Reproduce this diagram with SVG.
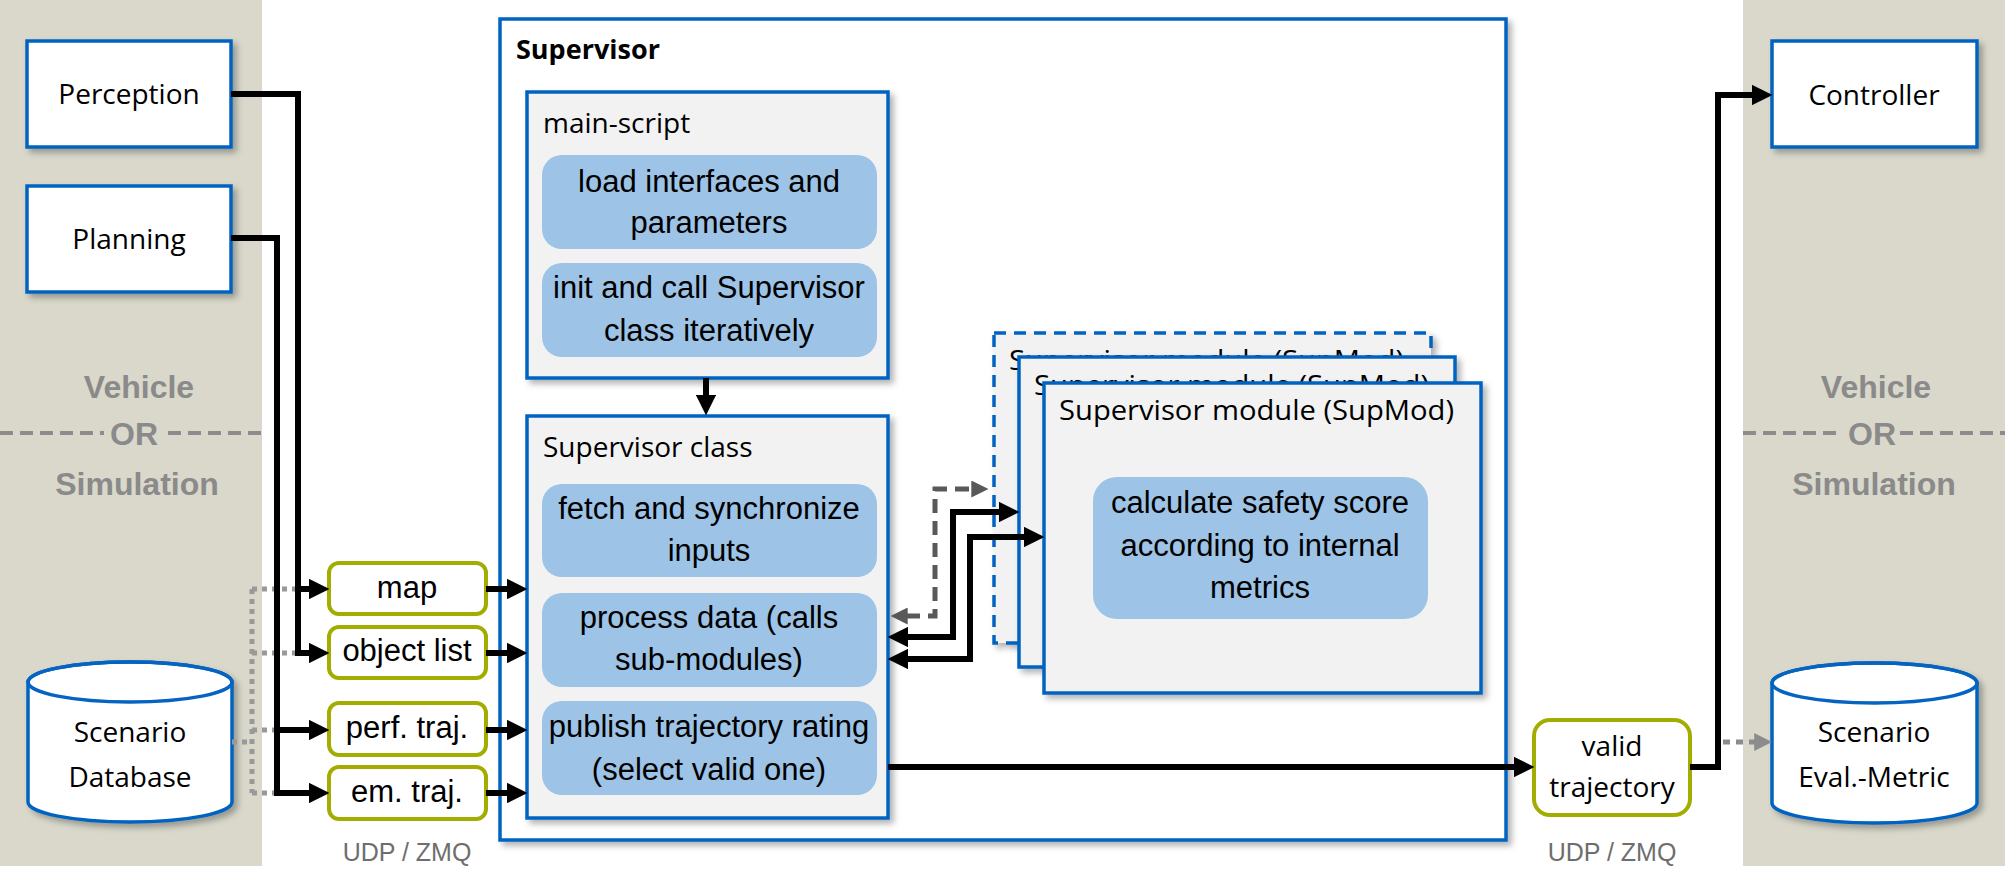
<svg xmlns="http://www.w3.org/2000/svg" width="2005" height="882" viewBox="0 0 2005 882">
<defs>
<filter id="sh" x="-10%" y="-10%" width="130%" height="130%">
<feDropShadow dx="4" dy="4" stdDeviation="3" flood-color="#000" flood-opacity="0.3"/>
</filter>
<marker id="ab" viewBox="0 0 10 10" refX="1" refY="5" markerWidth="3.4" markerHeight="3.4" orient="auto-start-reverse"><path d="M0,0 L10,5 L0,10 z" fill="#000"/></marker>
<marker id="ag" viewBox="0 0 10 10" refX="1" refY="5" markerWidth="3.4" markerHeight="3.4" orient="auto-start-reverse"><path d="M0,0 L10,5 L0,10 z" fill="#595959"/></marker>
<marker id="al" viewBox="0 0 10 10" refX="1" refY="5" markerWidth="3.6" markerHeight="3.6" orient="auto"><path d="M0,0 L10,5 L0,10 z" fill="#8C8C8C"/></marker>
<style>
.band{fill:#D9D8CB}
.bx{fill:#fff;stroke:#0563C1;stroke-width:3.5}
.gbx{fill:#F2F2F2;stroke:#0563C1;stroke-width:3.5}
.blu{fill:#9DC3E6}
.grn{fill:#fff;stroke:#A2AD00;stroke-width:4}
.seg{font-family:"Open Sans","Noto Sans",sans-serif;font-size:28px;fill:#000}
.segb{font-family:"Open Sans","Noto Sans",sans-serif;font-size:27px;font-weight:bold;fill:#000}
.ari{font-family:"Liberation Sans",Arial,sans-serif;font-size:31px;fill:#000}
.bt{font-family:"Liberation Sans",Arial,sans-serif;font-size:32px;font-weight:bold;fill:#8A8A8A}
.udp{font-family:"Liberation Sans",Arial,sans-serif;font-size:25px;fill:#6E6E6E}
.m{text-anchor:middle}
.ln{fill:none;stroke:#000;stroke-width:6}
.dt{fill:none;stroke:#999;stroke-width:5;stroke-dasharray:5 5}
.dsh{fill:none;stroke:#8C8C8C;stroke-width:4;stroke-dasharray:13 7}
</style>
</defs>

<g id="bands">
<rect class="band" x="0" y="0" width="262" height="866"/>
<rect class="band" x="1743" y="0" width="262" height="866"/>
<text class="bt m" x="139" y="398">Vehicle</text>
<text class="bt m" x="134" y="445">OR</text>
<text class="bt m" x="137" y="495">Simulation</text>
<path class="dsh" d="M0,433 H104 M168,433 H262"/>
<text class="bt m" x="1876" y="398">Vehicle</text>
<text class="bt m" x="1872" y="445">OR</text>
<text class="bt m" x="1874" y="495">Simulation</text>
<path class="dsh" d="M1743,433 H1843 M1900,433 H2005"/>
<text class="udp m" x="407" y="861">UDP / ZMQ</text>
<text class="udp m" x="1612" y="861">UDP / ZMQ</text>
</g>

<g id="perception"><rect class="bx" filter="url(#sh)" x="27" y="41" width="204" height="106"/><text class="seg m" x="129" y="104">Perception</text></g>
<g id="planning"><rect class="bx" filter="url(#sh)" x="27" y="186" width="204" height="106"/><text class="seg m" x="129" y="249">Planning</text></g>
<g id="scenario-db">
<path class="bx" filter="url(#sh)" d="M28,682 V802 A102,20 0 0 0 232,802 V682 A102,20 0 0 0 28,682 Z"/>
<ellipse cx="130" cy="682" rx="102" ry="20" fill="none" stroke="#0563C1" stroke-width="3.5"/>
<text class="seg m" x="130" y="742">Scenario</text><text class="seg m" x="130" y="787">Database</text>
</g>

<g id="supervisor"><rect class="bx" filter="url(#sh)" x="500" y="19" width="1006" height="821"/><text class="segb" x="516" y="59">Supervisor</text></g>

<g id="main-script">
<rect class="gbx" filter="url(#sh)" x="527" y="92" width="361" height="286"/>
<text class="seg" x="543" y="133">main-script</text>
<rect class="blu" x="542" y="155" width="335" height="94" rx="20"/>
<text class="ari m" x="709" y="192">load interfaces and</text><text class="ari m" x="709" y="233">parameters</text>
<rect class="blu" x="542" y="263" width="335" height="94" rx="20"/>
<text class="ari m" x="709" y="298">init and call Supervisor</text><text class="ari m" x="709" y="341">class iteratively</text>
</g>

<g id="supervisor-class">
<rect class="gbx" filter="url(#sh)" x="527" y="416" width="361" height="402"/>
<text class="seg" x="543" y="457">Supervisor class</text>
<rect class="blu" x="542" y="484" width="335" height="93" rx="20"/>
<text class="ari m" x="709" y="519">fetch and synchronize</text><text class="ari m" x="709" y="561">inputs</text>
<rect class="blu" x="542" y="593" width="335" height="94" rx="20"/>
<text class="ari m" x="709" y="628">process data (calls</text><text class="ari m" x="709" y="670">sub-modules)</text>
<rect class="blu" x="542" y="701" width="335" height="94" rx="20"/>
<text class="ari m" x="709" y="737">publish trajectory rating</text><text class="ari m" x="709" y="780">(select valid one)</text>
</g>

<g id="supmod-3">
<rect class="gbx" filter="url(#sh)" x="994" y="333" width="437" height="310" stroke-dasharray="12 8"/>
<text class="seg" x="1009" y="370" textLength="395" lengthAdjust="spacingAndGlyphs">Supervisor module (SupMod)</text>
</g>
<g id="supmod-2">
<rect class="gbx" filter="url(#sh)" x="1019" y="357" width="436" height="310"/>
<text class="seg" x="1034" y="395" textLength="395" lengthAdjust="spacingAndGlyphs">Supervisor module (SupMod)</text>
</g>
<g id="supmod-1">
<rect class="gbx" filter="url(#sh)" x="1044" y="383" width="437" height="310"/>
<text class="seg" x="1059" y="420" textLength="395" lengthAdjust="spacingAndGlyphs">Supervisor module (SupMod)</text>
<rect class="blu" x="1093" y="477" width="335" height="142" rx="24"/>
<text class="ari m" x="1260" y="513">calculate safety score</text>
<text class="ari m" x="1260" y="556">according to internal</text>
<text class="ari m" x="1260" y="598">metrics</text>
</g>

<g id="in-map"><rect class="grn" x="329" y="563" width="157" height="51" rx="10"/><text class="ari m" x="407" y="598">map</text></g>
<g id="in-objects"><rect class="grn" x="329" y="627" width="157" height="51" rx="10"/><text class="ari m" x="407" y="661">object list</text></g>
<g id="in-perf"><rect class="grn" x="329" y="703" width="157" height="52" rx="10"/><text class="ari m" x="407" y="738">perf. traj.</text></g>
<g id="in-em"><rect class="grn" x="329" y="767" width="157" height="52" rx="10"/><text class="ari m" x="407" y="802">em. traj.</text></g>

<g id="valid-trajectory"><rect class="grn" x="1534" y="720" width="156" height="95" rx="16"/><text class="seg m" x="1612" y="756">valid</text><text class="seg m" x="1612" y="797">trajectory</text></g>

<g id="controller"><rect class="bx" filter="url(#sh)" x="1772" y="41" width="205" height="106"/><text class="seg m" x="1874" y="105">Controller</text></g>
<g id="scenario-metric">
<path class="bx" filter="url(#sh)" d="M1772,683 V803 A102.5,20 0 0 0 1977,803 V683 A102.5,20 0 0 0 1772,683 Z"/>
<ellipse cx="1874.5" cy="683" rx="102.5" ry="20" fill="none" stroke="#0563C1" stroke-width="3.5"/>
<text class="seg m" x="1874" y="742">Scenario</text><text class="seg m" x="1874" y="787">Eval.-Metric</text>
</g>

<g id="connectors">
<path class="dt" d="M252,589 V793 M252,589 H296 M252,653 H296 M252,730 H275 M252,793 H275 M232,742 H252"/>
<path class="ln" d="M231,94 H298 V653 H311" marker-end="url(#ab)"/>
<path class="ln" d="M298,589 H311" marker-end="url(#ab)"/>
<path class="ln" d="M231,238 H277 V793 H311" marker-end="url(#ab)"/>
<path class="ln" d="M277,730 H311" marker-end="url(#ab)"/>
<path class="ln" d="M486,589 H509" marker-end="url(#ab)"/>
<path class="ln" d="M486,653 H509" marker-end="url(#ab)"/>
<path class="ln" d="M486,730 H509" marker-end="url(#ab)"/>
<path class="ln" d="M486,793 H509" marker-end="url(#ab)"/>
<path class="ln" d="M706,378 V397" marker-end="url(#ab)"/>
<path class="ln" d="M888,767 H1516" marker-end="url(#ab)"/>
<path class="ln" d="M1690,767 H1718 V95 H1754" marker-end="url(#ab)"/>
<path d="M1723,742 H1756" fill="none" stroke="#8C8C8C" stroke-width="5" stroke-dasharray="7 6" marker-end="url(#al)"/>
<path d="M906,616 H935 V489 H973" fill="none" stroke="#595959" stroke-width="5" stroke-dasharray="14 8" marker-start="url(#ag)" marker-end="url(#ag)"/>
<path class="ln" d="M906,637 H953 V512 H1001" marker-start="url(#ab)" marker-end="url(#ab)"/>
<path class="ln" d="M906,659 H970 V537 H1026" marker-start="url(#ab)" marker-end="url(#ab)"/>
</g>
</svg>
